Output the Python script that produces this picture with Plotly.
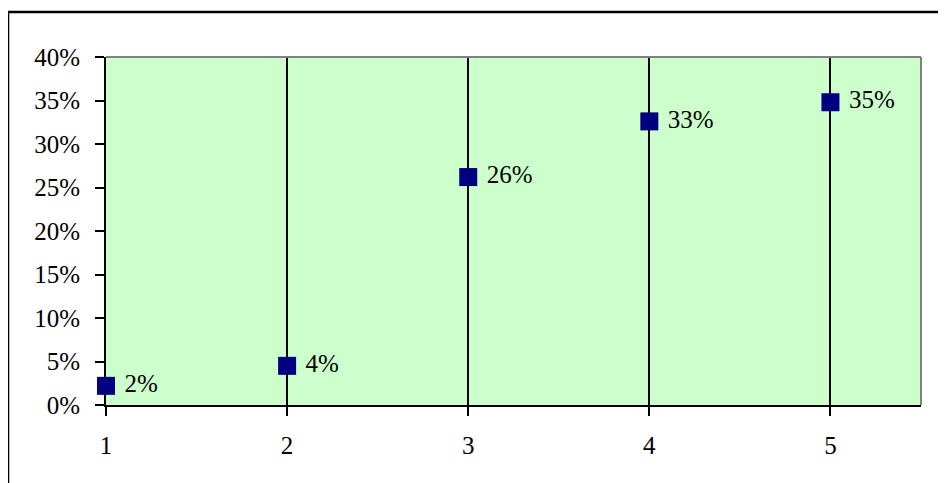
import plotly.graph_objects as go

x_vals = [1, 2, 3, 4, 5]
y_vals = [0.022, 0.045, 0.262, 0.326, 0.348]
labels = ["2%", "4%", "26%", "33%", "35%"]
y_ticks = [0, 0.05, 0.10, 0.15, 0.20, 0.25, 0.30, 0.35, 0.40]
y_tick_text = ["0%", "5%", "10%", "15%", "20%", "25%", "30%", "35%", "40%"]
x_ticks = [1, 2, 3, 4, 5]

FONT = "Liberation Serif"

fig = go.Figure()
fig.add_trace(go.Scatter(
    x=x_vals, y=y_vals, mode="markers+text",
    text=labels, texttemplate="\u00a0%{text}", textposition="middle right",
    textfont=dict(family=FONT, size=25, color="black"),
    marker=dict(symbol="square", size=18, color="#000080"),
    cliponaxis=False, showlegend=False, hoverinfo="skip",
))

# page has 8px body margin: figure drawn at (8, 8)
fig.update_layout(
    width=938, height=475,
    margin=dict(l=98, r=25, t=49, b=78),
    paper_bgcolor="white",
    plot_bgcolor="#CCFFCC",
    font=dict(family=FONT, size=25, color="black"),
    xaxis=dict(
        range=[1, 5.5], tickvals=x_ticks, ticktext=[str(v) for v in x_ticks],
        showgrid=True, gridcolor="black", gridwidth=2,
        showline=True, linecolor="black", linewidth=2,
        ticks="outside", ticklen=9, tickwidth=2, tickcolor="black",
        ticklabelstandoff=8, zeroline=False, layer="below traces",
    ),
    yaxis=dict(
        range=[0, 0.4], tickvals=y_ticks, ticktext=y_tick_text,
        showgrid=False, showline=True, linecolor="black", linewidth=2,
        ticks="outside", ticklen=9, tickwidth=2, tickcolor="black",
        ticklabelstandoff=10, zeroline=False, layer="below traces",
    ),
    shapes=[
        dict(type="line", xref="paper", yref="paper", x0=0, x1=1, y0=1, y1=1,
             line=dict(color="#808080", width=2)),
        dict(type="line", xref="paper", yref="paper", x0=1, x1=1, y0=0, y1=1,
             line=dict(color="#808080", width=2)),
        dict(type="line", xref="paper", yref="paper", x0=-0.1202, x1=1.04, y0=1.1293, y1=1.1293,
             line=dict(color="black", width=2.5)),
        dict(type="line", xref="paper", yref="paper", x0=-0.1202, x1=-0.1202, y0=1.1293, y1=-0.23,
             line=dict(color="black", width=2.5)),
    ],
)

fig.write_html("out.html")
